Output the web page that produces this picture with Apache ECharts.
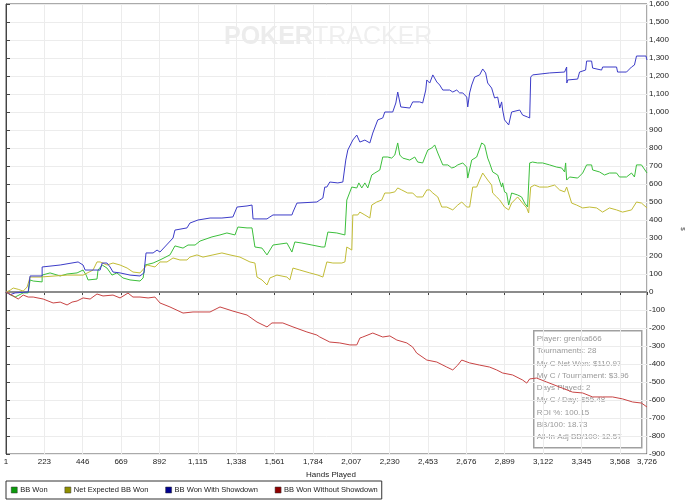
<!DOCTYPE html>
<html lang="en">
<head>
    <meta charset="UTF-8">
    <title>BB Won graph</title>
    <script src="https://cdn.jsdelivr.net/npm/echarts@6/dist/echarts.min.js"></script>
</head>
<body style="margin: 0">
<div id="chart" style="width: 700px; height: 504px"></div>

<script>
    // hands played vs BB
    let bbWon = [[1,0],[24,-15],[53,-28],[100,-5],[129,-5],[140,67],[158,61],[210,56],[210,94],[256,106],[315,89],[355,100],[413,106],[448,122],[466,94],[477,67],[529,72],[535,122],[559,150],[587,133],[616,94],[645,106],[680,78],[721,67],[779,61],[797,78],[808,150],[855,161],[895,178],[953,206],[982,256],[1029,244],[1058,261],[1099,261],[1128,283],[1197,306],[1244,317],[1284,328],[1331,317],[1348,361],[1401,356],[1430,356],[1447,250],[1488,244],[1517,206],[1552,261],[1633,272],[1662,222],[1679,278],[1720,272],[1778,261],[1836,250],[1853,250],[1871,333],[1923,328],[1970,317],[1981,511],[2010,583],[2039,578],[2051,606],[2068,578],[2086,606],[2103,578],[2126,650],[2144,661],[2173,678],[2190,750],[2219,750],[2242,744],[2260,761],[2277,828],[2289,761],[2306,744],[2347,733],[2376,750],[2393,722],[2422,717],[2440,761],[2452,789],[2475,800],[2492,817],[2510,772],[2539,706],[2568,706],[2591,689],[2608,694],[2626,706],[2655,717],[2678,694],[2684,633],[2707,733],[2736,750],[2765,828],[2782,817],[2800,744],[2811,717],[2829,667],[2858,650],[2881,583],[2887,606],[2898,556],[2910,550],[2922,483],[2939,550],[2974,539],[2997,528],[3015,494],[3032,472],[3040,465],[3044,717],[3061,722],[3090,717],[3119,717],[3160,706],[3201,694],[3230,689],[3247,667],[3253,717],[3259,622],[3276,639],[3323,633],[3352,661],[3375,706],[3404,706],[3410,678],[3450,667],[3479,650],[3508,661],[3549,661],[3566,639],[3607,639],[3636,661],[3653,639],[3665,706],[3694,706],[3726,661]];

    let netExpected = [[1,0],[24,10],[42,22],[71,15],[100,5],[123,28],[140,83],[198,83],[355,94],[448,94],[506,122],[529,167],[547,167],[587,150],[622,161],[663,150],[704,133],[738,111],[779,106],[820,150],[866,139],[895,167],[936,167],[971,189],[1011,178],[1052,178],[1069,194],[1110,206],[1145,194],[1203,206],[1255,217],[1302,206],[1360,194],[1418,167],[1447,161],[1459,83],[1488,67],[1517,39],[1534,78],[1575,94],[1633,83],[1650,67],[1668,133],[1708,122],[1766,106],[1813,94],[1842,83],[1865,167],[1900,161],[1952,161],[1970,167],[1981,250],[2010,233],[2016,428],[2045,428],[2057,444],[2086,428],[2115,411],[2126,483],[2155,500],[2184,511],[2202,550],[2231,550],[2260,556],[2277,578],[2300,567],[2335,550],[2364,550],[2387,528],[2422,528],[2446,567],[2463,567],[2481,550],[2510,528],[2533,472],[2562,472],[2597,456],[2626,483],[2649,500],[2678,472],[2695,472],[2713,583],[2736,583],[2753,622],[2771,661],[2782,661],[2800,622],[2823,594],[2829,550],[2852,528],[2870,511],[2881,522],[2898,472],[2922,456],[2939,494],[2974,528],[3003,494],[3027,467],[3038,439],[3050,583],[3073,594],[3102,583],[3148,583],[3189,594],[3218,567],[3247,556],[3259,583],[3288,494],[3317,483],[3352,467],[3392,472],[3433,467],[3468,444],[3508,467],[3549,456],[3584,444],[3636,456],[3665,500],[3694,494],[3726,467]];

    let wonShowdown = [[1,0],[24,-15],[53,-5],[129,0],[140,89],[210,89],[210,139],[315,150],[419,167],[448,150],[460,122],[547,122],[559,161],[587,161],[605,139],[622,111],[663,106],[721,94],[779,89],[802,106],[814,217],[855,217],[878,233],[895,222],[971,300],[982,344],[1052,356],[1069,383],[1116,400],[1186,411],[1255,411],[1319,417],[1343,472],[1401,478],[1430,483],[1436,406],[1517,406],[1534,417],[1552,428],[1662,428],[1668,444],[1691,494],[1807,500],[1824,511],[1842,522],[1853,583],[1865,583],[1882,611],[1929,606],[1958,611],[1975,733],[1987,789],[2016,844],[2039,872],[2057,833],[2086,844],[2115,828],[2132,883],[2161,956],[2190,967],[2202,1000],[2248,1000],[2266,1050],[2277,1111],[2295,1028],[2306,1022],[2347,1022],[2364,1056],[2405,1056],[2422,1050],[2440,1122],[2446,1178],[2463,1161],[2481,1206],[2504,1167],[2521,1150],[2539,1122],[2579,1122],[2597,1111],[2620,1122],[2637,1106],[2655,1106],[2678,1083],[2684,1028],[2695,1106],[2707,1150],[2724,1194],[2753,1206],[2771,1239],[2788,1217],[2800,1161],[2823,1133],[2840,1078],[2858,1083],[2870,1022],[2881,1056],[2887,1011],[2898,956],[2922,928],[2939,1000],[2986,1011],[3003,983],[3032,972],[3044,967],[3050,1194],[3061,1206],[3160,1217],[3247,1222],[3259,1250],[3260,1161],[3265,1178],[3323,1183],[3334,1222],[3369,1233],[3375,1283],[3404,1283],[3410,1244],[3462,1233],[3468,1250],[3549,1250],[3555,1222],[3607,1222],[3636,1250],[3653,1261],[3665,1311],[3720,1311],[3726,1289]];

    let wonNoShowdown = [[1,0],[42,-22],[71,-39],[100,-17],[129,-28],[158,-28],[216,-39],[274,-61],[315,-56],[355,-72],[384,-56],[413,-50],[448,-33],[489,-39],[529,-11],[564,-22],[622,-17],[663,-33],[709,-6],[738,-28],[779,-28],[826,-33],[866,-28],[895,-61],[953,-83],[1029,-117],[1087,-111],[1186,-111],[1244,-83],[1319,-106],[1401,-128],[1459,-167],[1517,-194],[1546,-172],[1609,-172],[1668,-194],[1749,-222],[1807,-239],[1824,-250],[1882,-278],[1940,-283],[1999,-294],[2039,-294],[2057,-256],[2074,-250],[2132,-228],[2190,-250],[2231,-244],[2272,-267],[2330,-283],[2364,-306],[2387,-339],[2446,-378],[2504,-389],[2562,-417],[2597,-433],[2626,-406],[2649,-378],[2695,-394],[2753,-406],[2811,-417],[2852,-433],[2887,-450],[2945,-461],[3003,-489],[3027,-506],[3044,-483],[3084,-478],[3143,-500],[3218,-528],[3293,-556],[3352,-561],[3410,-583],[3468,-583],[3526,-583],[3584,-594],[3642,-611],[3694,-617],[3726,-639]];

    let seriesNames = ['BB Won', 'Net Expected BB Won', 'BB Won With Showdown', 'BB Won Without Showdown'];
    let lineColors = ['#3cbf3c', '#c2bc36', '#3c3cc8', '#c84444'];
    let legendColors = ['#0c9a0c', '#8f8f00', '#00008f', '#8f0000'];

    let statsLines = ['Player: grenka666', 'Tournaments: 28', 'My C Net Won: $110.97', 'My C / Tournament: $3.96',
        'Days Played: 2', 'My C / Day: $55.48', 'ROI %: 100.15', 'BB/100: 18.73', 'All-In Adj BB/100: 12.57'];

    let fontName = 'Liberation Sans';
    let myChart = echarts.init(document.getElementById('chart'));

    let allData = [bbWon, netExpected, wonShowdown, wonNoShowdown];
    let series = allData.map(function (d, i) {
        let s = {
            name: seriesNames[i],
            type: 'line',
            data: d,
            symbol: 'none',
            lineStyle: {width: 1, color: lineColors[i]},
            itemStyle: {color: legendColors[i]},
            z: 3
        };
        if (i === 0) {
            s.markLine = {
                silent: true,
                symbol: 'none',
                label: {show: false},
                lineStyle: {color: '#8c8c8c', width: 2, type: 'solid'},
                data: [{yAxis: 0}],
                z: 2
            };
        }
        return s;
    });

    let statsText = [];
    statsLines.forEach(function (t, i) {
        statsText.push({
            type: 'text',
            left: 3,
            top: 4 + i * 12.3,
            style: {text: t, fill: '#999999', font: '8px "' + fontName + '"'}
        });
    });

    let option = {
        animation: false,
        backgroundColor: '#ffffff',
        textStyle: {fontFamily: fontName},
        grid: {
            left: 6, right: 53, top: 4, bottom: 50,
            show: true, borderColor: '#555555', borderWidth: 1
        },
        legend: {
            left: 6, top: 481,
            padding: [5, 4, 5, 5],
            borderColor: '#333333', borderWidth: 1,
            itemWidth: 6, itemHeight: 6, itemGap: 17,
            icon: 'rect',
            textStyle: {fontSize: 7.5, color: '#222222', padding: [0, 0, 0, -2]},
            data: seriesNames.map(function (n, i) {
                return {name: n, itemStyle: {color: legendColors[i], borderColor: '#333', borderWidth: 0.5}};
            })
        },
        xAxis: {
            type: 'value',
            min: 0, max: 3726, interval: 223,
            name: 'Hands Played',
            nameLocation: 'middle',
            nameGap: 17,
            nameTextStyle: {fontSize: 8, color: '#222222', padding: [0, 0, 0, 9]},
            axisLine: {lineStyle: {color: '#444444'}},
            axisTick: {show: true, length: 3, lineStyle: {color: '#444444'}},
            axisLabel: {
                fontSize: 8, color: '#222222', margin: 4,
                formatter: function (v) { return v === 0 ? '1' : v.toLocaleString('en-US'); }
            },
            splitLine: {show: true, lineStyle: {color: '#ececec'}}
        },
        yAxis: {
            type: 'value',
            position: 'right',
            min: -900, max: 1600, interval: 100,
            name: '$',
            nameLocation: 'middle',
            nameGap: 33,
            nameRotate: -90,
            nameTextStyle: {fontSize: 6, color: '#444444'},
            axisLine: {show: true, lineStyle: {color: '#444444'}},
            axisTick: {show: true, length: 4, lineStyle: {color: '#444444'}},
            axisLabel: {
                fontSize: 8, color: '#222222', margin: 2,
                formatter: function (v) { return v.toLocaleString('en-US'); }
            },
            splitLine: {show: true, lineStyle: {color: '#ececec'}}
        },
        graphic: [
            {
                type: 'text',
                left: 224, top: 25,
                z: 0,
                style: {
                    text: '{a|POKER}{b|TRACKER}',
                    rich: {
                        a: {fontSize: 25, fontWeight: 'bold', fill: '#ececec', fontFamily: fontName},
                        b: {fontSize: 25, fill: '#efefef', fontFamily: fontName}
                    }
                }
            },
            {
                type: 'group',
                left: 533, top: 330,
                z: 10,
                children: [{
                    type: 'rect',
                    shape: {x: 0, y: 0, width: 108, height: 117},
                    style: {fill: 'rgba(255,255,255,0)', stroke: '#a0a0a0', lineWidth: 1.5}
                }].concat(statsText)
            }
        ],
        series: series
    };
    myChart.setOption(option);
</script>
</body>
</html>
